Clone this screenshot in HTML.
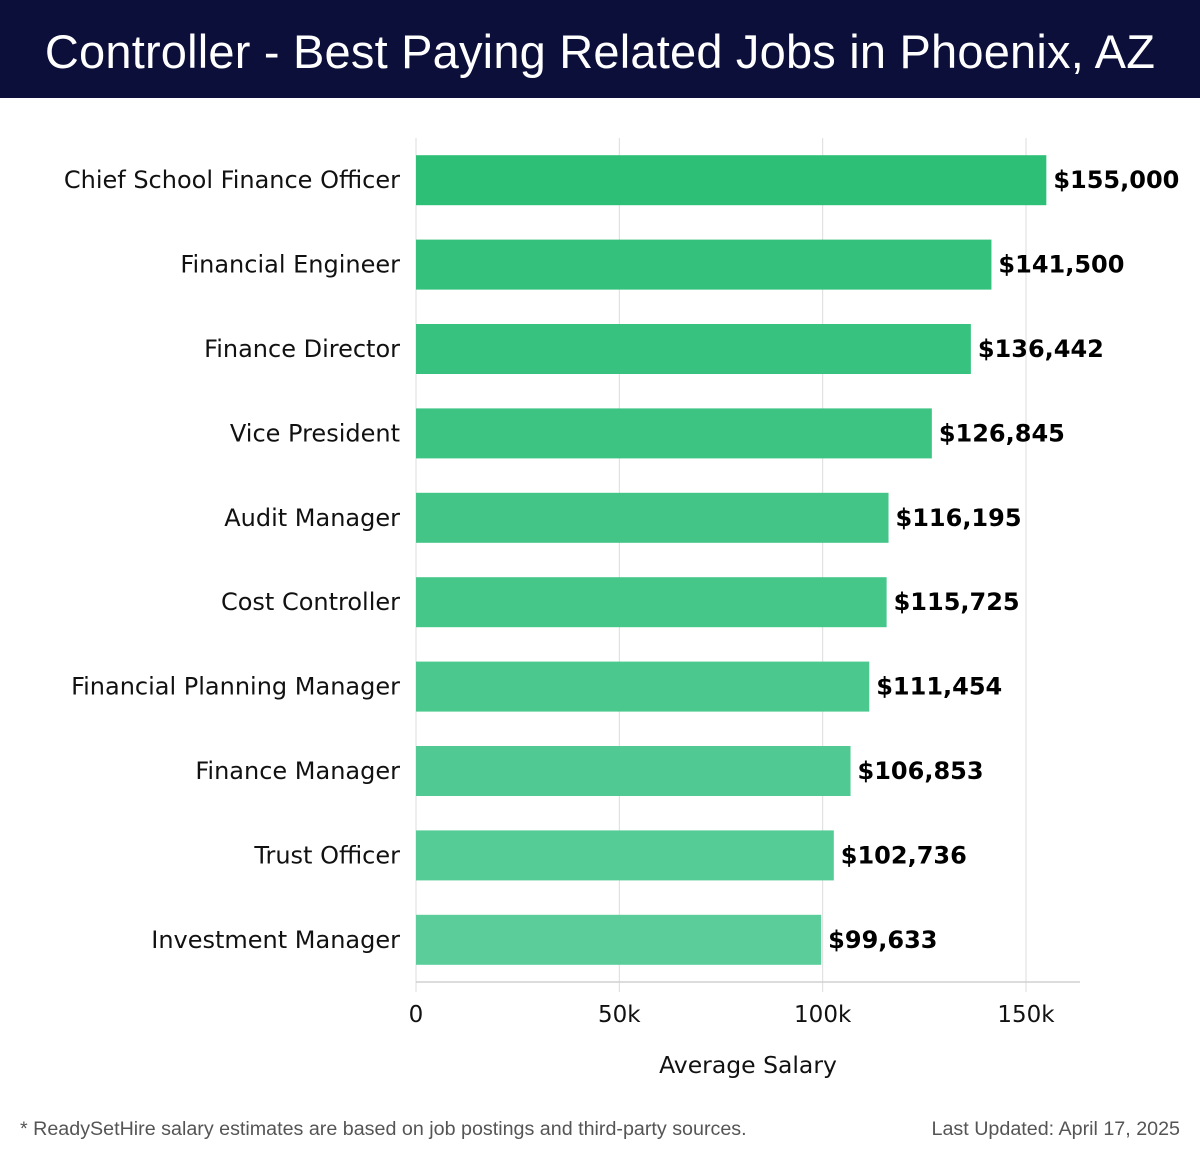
<!DOCTYPE html>
<html><head><meta charset="utf-8"><style>
body{margin:0;width:1200px;height:1158px;background:#fff;font-family:"DejaVu Sans","Liberation Sans",sans-serif;overflow:hidden}
#hdr{position:absolute;left:0;top:0;width:1200px;height:98px;background:#0c0f3a;color:#fff;font-family:"Liberation Sans",sans-serif;font-size:47px;line-height:104px;text-align:center;letter-spacing:0.2px}
.foot{position:absolute;top:1118px;font-family:"Liberation Sans",sans-serif;font-size:19.7px;color:#555}
</style></head><body>
<div id="hdr">Controller - Best Paying Related Jobs in Phoenix, AZ</div>
<svg id="chart" width="1200" height="1100" style="position:absolute;left:0;top:0"></svg>
<div class="foot" style="left:20px">* ReadySetHire salary estimates are based on job postings and third-party sources.</div>
<div class="foot" style="right:20px">Last Updated: April 17, 2025</div>
<script>
const categories=["Chief School Finance Officer","Financial Engineer","Finance Director","Vice President","Audit Manager","Cost Controller","Financial Planning Manager","Finance Manager","Trust Officer","Investment Manager"];
const values=[155000,141500,136442,126845,116195,115725,111454,106853,102736,99633];
const valueLabels=["$155,000","$141,500","$136,442","$126,845","$116,195","$115,725","$111,454","$106,853","$102,736","$99,633"];
const ticks=[0,50000,100000,150000];
const tickLabels=["0","50k","100k","150k"];
const NS="http://www.w3.org/2000/svg";
const svg=document.getElementById('chart');
const x0=416,pxPer=(1026-416)/150000;
const xs=v=>x0+v*pxPer;
const top0=138,bottom=982,step=(bottom-top0)/categories.length;
const ys=i=>top0+step*i+step/2;
function mk(t,a){const e=document.createElementNS(NS,t);for(const k in a)e.setAttribute(k,a[k]);svg.appendChild(e);return e;}
ticks.forEach((t,i)=>{
 const g=mk('line',{x1:xs(t),x2:xs(t),y1:top0,y2:992,stroke:'#dcdcdc','stroke-width':1});
 
 
 const tl=mk('text',{x:xs(t),y:1022,'text-anchor':'middle','font-size':23,fill:'#111'});
 tl.textContent=tickLabels[i];
 
 
});
const ax=mk('line',{x1:x0,x2:1080,y1:bottom,y2:bottom,stroke:'#d0d0d0','stroke-width':1.5});


const c1=[46,191,119],c2=[90,205,154];
categories.forEach((c,i)=>{
 const f=i/(categories.length-1);
 const col=`rgb(${c1.map((v,k)=>Math.round(v+(c2[k]-v)*f)).join(',')})`;
 const y=ys(i);
 const b=mk('rect',{x:x0,y:y-25,width:xs(values[i])-x0,height:50,fill:col});
 
 
 const l=mk('text',{x:400,y:y+8,'text-anchor':'end','font-size':24,fill:'#111'});
 l.textContent=c;
 
 
 const v=mk('text',{x:xs(values[i])+7,y:y+8,'font-size':24,'font-weight':'bold',fill:'#000'});
 v.textContent=valueLabels[i];
 
 
});
const at=mk('text',{x:748,y:1073,'text-anchor':'middle','font-size':23.5,fill:'#111'});
at.textContent='Average Salary';


</script>
</body></html>
